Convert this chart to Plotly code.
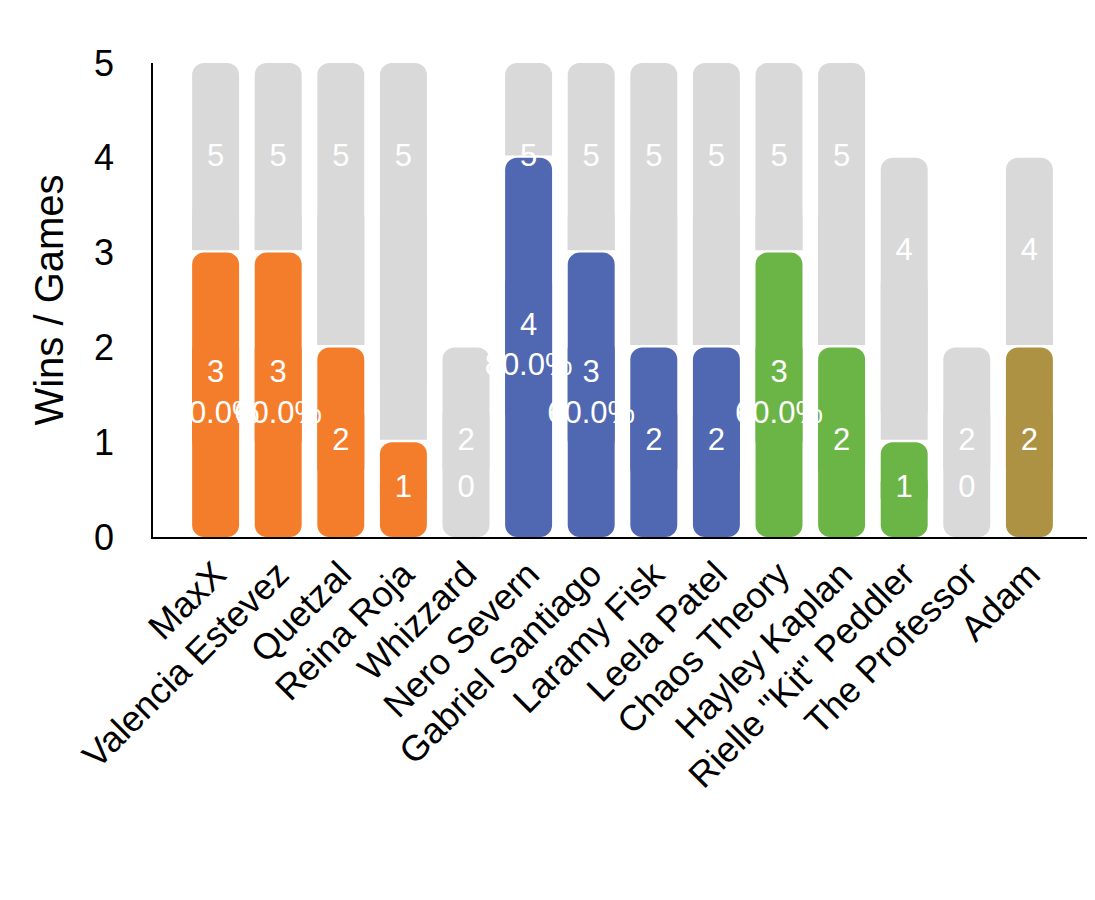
import plotly.graph_objects as go

players = ["MaxX", "Valencia Estevez", "Quetzal", "Reina Roja", "Whizzard",
           "Nero Severn", "Gabriel Santiago", "Laramy Fisk", "Leela Patel",
           "Chaos Theory", "Hayley Kaplan", 'Rielle "Kit" Peddler',
           "The Professor", "Adam"]
games = [5, 5, 5, 5, 2, 5, 5, 5, 5, 5, 5, 4, 2, 4]
wins = [3, 3, 2, 1, 0, 4, 3, 2, 2, 3, 2, 1, 0, 2]
win_labels = ["3<br>60.0%", "3<br>60.0%", "2", "1", "0", "4<br>80.0%",
              "3<br>60.0%", "2", "2", "3<br>60.0%", "2", "1", "0", "2"]
win_colors = ["#F47D2B", "#F47D2B", "#F47D2B", "#F47D2B", "#F47D2B",
              "#5067B1", "#5067B1", "#5067B1", "#5067B1",
              "#6BB446", "#6BB446", "#6BB446", "#6BB446", "#AE9243"]
y_ticks = [0, 1, 2, 3, 4, 5]

FONT = "Liberation Sans, Arial, Helvetica, sans-serif"
GRAY = "#D9D9D9"
x = list(range(len(players)))
BW = 0.75
R = 12


def rounded_bar(fig, values, colors):
    """Bar rounded at both ends, built from two overlapping pieces:
    an upper piece (rounded top) and a lower piece drawn downward
    (rounded bottom). The large overlap hides any inner corners."""
    fig.add_trace(go.Bar(
        x=x, y=[v * 0.7 for v in values], base=[v * 0.3 for v in values],
        width=BW, marker=dict(color=colors, cornerradius=R, line=dict(width=0)),
        hoverinfo="skip"))
    fig.add_trace(go.Bar(
        x=x, y=[-v * 0.7 for v in values], base=[v * 0.7 for v in values],
        width=BW, marker=dict(color=colors, cornerradius=R, line=dict(width=0)),
        hoverinfo="skip"))


fig = go.Figure()
rounded_bar(fig, games, GRAY)
# white halo that outlines the wins bars against the gray bars
fig.add_trace(go.Bar(
    x=x, y=[w + 0.025 if w > 0 else 0 for w in wins], width=BW + 0.06,
    marker=dict(color="white", cornerradius=R + 2, line=dict(width=0)),
    hoverinfo="skip"))
rounded_bar(fig, wins, win_colors)

fig.add_trace(go.Scatter(
    x=x, y=[g - 1 for g in games], mode="text", text=[str(g) for g in games],
    textfont=dict(color="white", size=31, family=FONT), hoverinfo="skip"))
fig.add_trace(go.Scatter(
    x=x, y=[w / 2 if w > 0 else 0.5 for w in wins], mode="text", text=win_labels,
    textfont=dict(color="white", size=31, family=FONT), hoverinfo="skip"))

fig.update_layout(
    width=1087, height=892, barmode="overlay", showlegend=False,
    plot_bgcolor="white", paper_bgcolor="white",
    margin=dict(l=145, r=3, t=55, b=363, autoexpand=False),
    font=dict(family=FONT, color="black"),
    xaxis=dict(range=[-1, 14], tickmode="array", tickvals=x, ticktext=players,
               tickangle=-45, tickfont=dict(size=36), showgrid=False,
               showline=True, linecolor="black", linewidth=1.5, ticks="",
               zeroline=False),
    yaxis=dict(range=[0, 5], tickvals=y_ticks, tickfont=dict(size=36),
               showgrid=False, showline=True, linecolor="black", linewidth=1.5,
               ticks="", zeroline=False, ticklabelstandoff=30,
               title=dict(text="Wins / Games", font=dict(size=40), standoff=18)),
)

fig.write_html("out.html")
